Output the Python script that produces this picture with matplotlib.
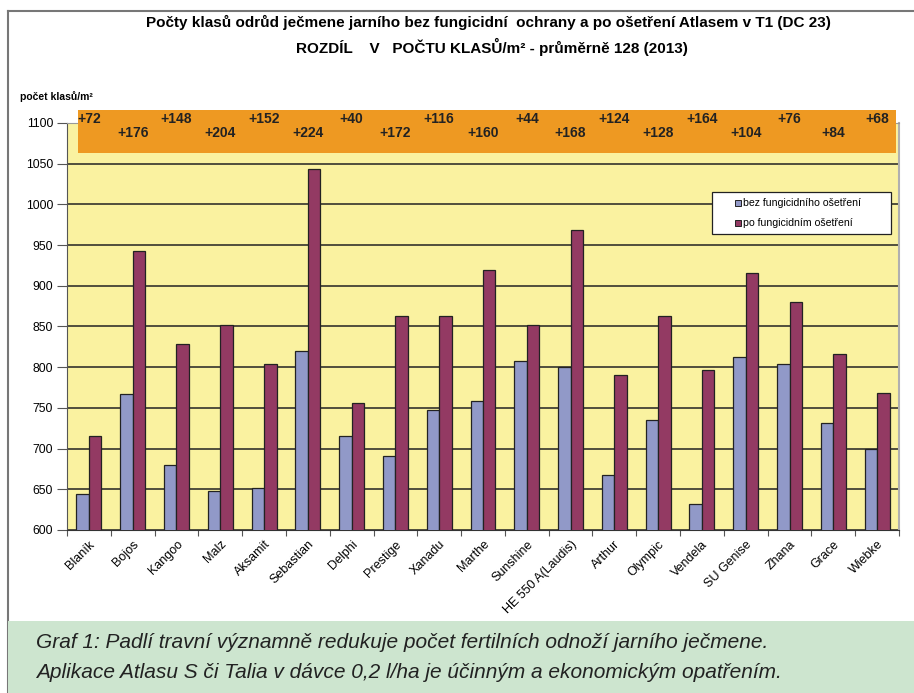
import numpy as np
import matplotlib
matplotlib.use('Agg')
import matplotlib.pyplot as plt
from matplotlib.patches import Rectangle
from matplotlib.lines import Line2D
from matplotlib.transforms import blended_transform_factory

plt.rcParams['font.family'] = ['Liberation Sans', 'DejaVu Sans']

odrudy = ['Blaník', 'Bojos', 'Kangoo', 'Malz', 'Aksamit', 'Sebastian', 'Delphi',
          'Prestige', 'Xanadu', 'Marthe', 'Sunshine', 'HE 550 A(Laudis)', 'Arthur',
          'Olympic', 'Vendela', 'SU Genise', 'Zhana', 'Grace', 'Wiebke']
bez_fungicidu = [644, 767, 680, 648, 652, 820, 716, 691, 747, 759, 808, 800, 667,
                 735, 632, 812, 804, 732, 700]
po_fungicidu = [716, 943, 828, 852, 804, 1044, 756, 863, 863, 919, 852, 968, 791,
                863, 796, 916, 880, 816, 768]
rozdil = ['+72', '+176', '+148', '+204', '+152', '+224', '+40', '+172', '+116', '+160',
          '+44', '+168', '+124', '+128', '+164', '+104', '+76', '+84', '+68']
serie = ['bez fungicidního ošetření', 'po fungicidním ošetření']
barvy = ['#9199C8', '#933A63']

W, H = 914, 693
fig = plt.figure(figsize=(W / 100, H / 100), dpi=100)

def fx(px):
    return px / W

def fy(py):
    return 1 - py / H

ax = fig.add_axes([fx(67), fy(530), fx(899) - fx(67), fy(123) - fy(530)])
ax.set_facecolor('#FAF2A0')

x = np.arange(len(odrudy))
w = 0.285
ax.bar(x - w / 2, bez_fungicidu, w, color=barvy[0], edgecolor='#222222', lw=0.9, zorder=3)
ax.bar(x + w / 2, po_fungicidu, w, color=barvy[1], edgecolor='#222222', lw=0.9, zorder=3)

ax.set_ylim(600, 1100)
ax.set_xlim(-0.5, len(odrudy) - 0.5)
ax.set_yticks(range(600, 1101, 50))
ax.yaxis.grid(True, color='#222222', lw=1.1, zorder=1)
ax.set_axisbelow(True)
ax.tick_params(axis='y', labelsize=8.8, length=7, width=0.8, color='#555555', pad=3)

ax.set_xticks(x)
ax.set_xticklabels(odrudy, rotation=45, ha='right', rotation_mode='anchor', fontsize=9)
ax.tick_params(axis='x', length=0, pad=6)
ax.set_xticks(np.arange(-0.5, len(odrudy), 1), minor=True)
ax.tick_params(axis='x', which='minor', length=4, width=0.8, color='#555555')

ax.spines['left'].set_color('#555555')
ax.spines['bottom'].set_color('#333333')
ax.spines['right'].set_color('#B0B0B0')
ax.spines['right'].set_linewidth(1.5)
ax.spines['top'].set_color('#999999')

# legend drawn by hand (wide box, indented keys)
fig.patches.append(Rectangle((fx(712), fy(234)), fx(891) - fx(712), fy(192) - fy(234),
                             transform=fig.transFigure, facecolor='white',
                             edgecolor='#222222', lw=0.9, zorder=2))
for i, (s, c) in enumerate(zip(serie, barvy)):
    yy = 203 + 20 * i
    fig.patches.append(Rectangle((fx(735), fy(yy + 3)), fx(6), 6 / H,
                                 transform=fig.transFigure, facecolor=c,
                                 edgecolor='#222222', lw=0.7, zorder=3))
    fig.text(fx(743), fy(yy), s, ha='left', va='center', fontsize=7.6, zorder=3)

# orange box with differences
fig.patches.append(Rectangle((fx(78), fy(153)), fx(896) - fx(78), fy(110) - fy(153),
                             transform=fig.transFigure, facecolor='#EE9922',
                             edgecolor='none', zorder=1))
tr = blended_transform_factory(ax.transData, fig.transFigure)
for i, r in enumerate(rozdil):
    yy = fy(119) if i % 2 == 0 else fy(133)
    fig.text(i, yy, r, transform=tr, ha='center', va='center', fontsize=10,
             fontweight='bold', color='#222222', zorder=3)

# titles
fig.text(fx(488), fy(22), 'Počty klasů odrůd ječmene jarního bez fungicidní  ochrany a po ošetření Atlasem v T1 (DC 23)',
         ha='center', va='center', fontsize=11, fontweight='bold')
fig.text(fx(492), fy(47), 'ROZDÍL    V   POČTU KLASŮ/m² - průměrně 128 (2013)',
         ha='center', va='center', fontsize=11, fontweight='bold')
fig.text(fx(20), fy(97), 'počet klasů/m²', ha='left', va='center', fontsize=7.5,
         fontweight='bold')

# frame and caption
fig.lines.append(Line2D([fx(8), fx(8)], [fy(11), 0], transform=fig.transFigure,
                        color='#777777', lw=1.5))
fig.lines.append(Line2D([fx(8), 1], [fy(11), fy(11)], transform=fig.transFigure,
                        color='#777777', lw=1.5))
fig.patches.append(Rectangle((fx(8), 0), 1 - fx(8), fy(621), transform=fig.transFigure,
                             facecolor='#CDE5CF', edgecolor='none', zorder=2))
fig.text(fx(36), fy(642), 'Graf 1: Padlí travní významně redukuje počet fertilních odnoží jarního ječmene.',
         ha='left', va='center', fontsize=15, style='italic', color='#222222')
fig.text(fx(36), fy(672), 'Aplikace Atlasu S či Talia v dávce 0,2 l/ha je účinným a ekonomickým opatřením.',
         ha='left', va='center', fontsize=15, style='italic', color='#222222')

fig.savefig('out.png', dpi=100)
